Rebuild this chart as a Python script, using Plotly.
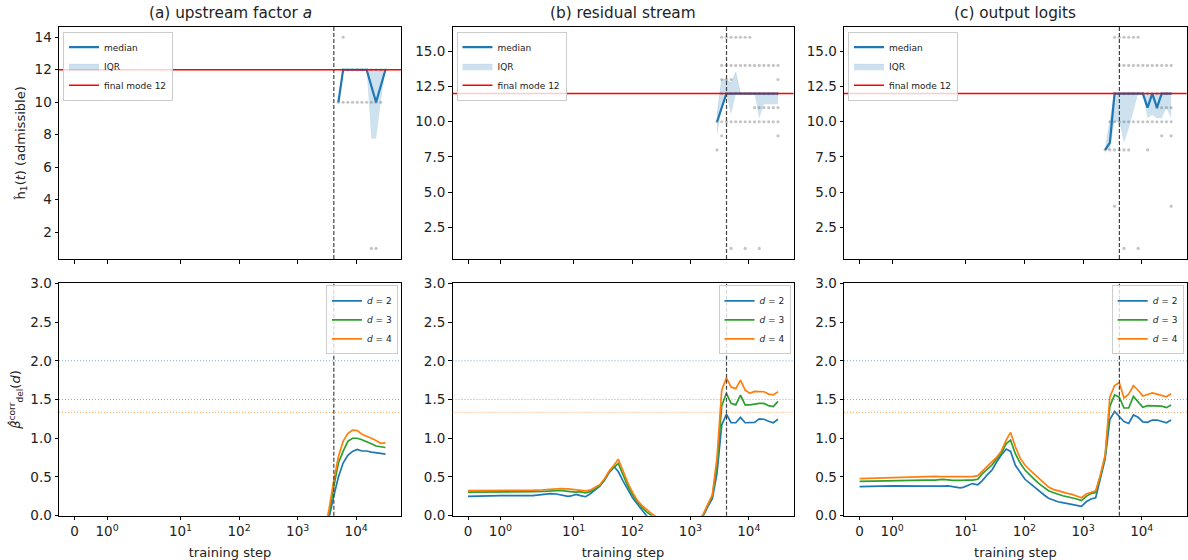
import numpy as np
import plotly.graph_objects as go

# ---------------------------------------------------------------- data
# checkpoint steps (log-spaced, plus the initial step 0)
STEPS = [0, 1, 2, 3, 4, 5, 6, 8, 9, 11, 13, 16, 19, 23, 28, 34, 40, 49, 58, 70,
         85, 102, 123, 148, 177, 214, 257, 309, 372, 448, 539, 648, 780, 938,
         1129, 1359, 1635, 1967, 2371, 2853, 3434, 4132, 4971, 5982, 7197, 8660,
         10420, 12538, 15087, 18154, 21844, 26284, 31623]

# late checkpoints where the admissible estimate h1(t) exists
TOP_STEPS = [2371, 2853, 3434, 4132, 4971, 5982, 7197, 8660, 10420, 12538,
             15087, 18154, 21844, 26284, 31623]

GROK_STEP = 4150
FINAL_MODE = 12
BETA_REF = {"d2": 2.0, "d3": 1.5, "d4": 4.0 / 3.0}

# (a) upstream factor a
a_median = [None, None, None, None, 10, 12, 12, 12, 12, 12, 12, 11, 10, 11, 12]
a_q25 = [None, None, None, None, 10, 12, 12, 12, 12, 12, 12, 7.75, 7.75, 10, 12]
a_q75 = [None, None, None, None, 10, 12, 12, 12, 12, 12, 12, 12, 12, 12, 12]
a_dots = [
    (14, [5982]),
    (12, [5982, 7197, 8660, 10420, 12538, 15087, 18154, 21844, 26284, 31623]),
    (10, [4971, 5982, 7197, 8660, 10420, 12538, 15087, 18154, 21844, 26284]),
    (1, [18154, 21844]),
]

# (b) residual stream
b_median = [None, 10, 11, 12, 12, 12, 12, 12, 12, 12, 12, 12, 12, 12, 12]
b_q25 = [None, 9, 11, 12, 10.5, 12, 12, 12, 12, 12, 10.25, 11.25, 11.25, 11.25, 11.25]
b_q75 = [None, 10.5, 13, 13, 12.75, 13.5, 12, 12, 12, 12, 12, 12, 12, 12, 12]
b_dots = [
    (16, [3434, 4132, 4971, 5982, 7197, 8660, 10420]),
    (14, [3434, 4132, 4971, 5982, 7197, 8660, 10420, 12538, 15087, 18154, 21844, 26284, 31623]),
    (13, [3434, 4132, 4971, 31623]),
    (12, [3434, 4132, 4971, 5982, 7197, 8660, 10420, 12538, 15087, 18154, 21844, 26284, 31623]),
    (11, [12538, 15087, 18154, 21844, 26284, 31623]),
    (10, [2853, 3434, 4132, 4971, 5982, 7197, 8660, 10420, 12538, 15087, 18154, 21844, 26284, 31623]),
    (9, [3434, 31623]),
    (8, [2853]),
    (1, [4971, 8660, 15087]),
]

# (c) output logits
c_median = [8, 8.5, 12, 12, 12, 12, 12, 12, 12, 11, 12, 11, 12, 12, 12]
c_q25 = [8, 8, 10, 10, 8.5, 9.5, 10.75, 12, 12, 10.25, 10.5, 10.25, 10.25, 11, 10.25]
c_q75 = [8, 10, 12, 12, 12, 12, 12, 12, 12, 12, 12, 12, 12, 12, 12]
c_dots = [
    (16, [3434, 4132, 4971, 5982, 7197, 8660]),
    (14, [4132, 4971, 5982, 7197, 8660, 10420, 12538, 15087, 18154, 21844, 26284, 31623]),
    (12, [3434, 4132, 4971, 5982, 7197, 8660, 10420, 12538, 15087, 18154, 21844, 26284, 31623]),
    (11, [18154, 21844, 26284, 31623]),
    (10, [2853, 3434, 4132, 4971, 5982, 7197, 8660, 10420, 12538, 15087, 18154, 21844, 26284, 31623]),
    (9, [21844, 31623]),
    (8, [2371, 2853, 3434, 4132, 4971, 5982, 12538]),
    (4, [3434, 31623]),
    (1, [4971, 8660]),
]

# corrected deletion exponent beta_del^corr(d), one series per d
a_d2 = [-0.62, -0.63, -0.63, -0.64, -0.64, -0.65, -0.65, -0.66, -0.66, -0.67,
        -0.68, -0.70, -0.72, -0.75, -0.78, -0.82, -0.86, -0.90, -0.93, -0.95,
        -0.96, -0.97, -0.97, -0.96, -0.95, -0.93, -0.91, -0.89, -0.87, -0.85,
        -0.83, -0.80, -0.77, -0.73, -0.68, -0.62, -0.55, -0.47,
        -0.38, -0.25, -0.03, 0.25, 0.50, 0.68, 0.78, 0.83, 0.855, 0.835,
        0.835, 0.82, 0.815, 0.805, 0.795]
a_d3 = [-0.58, -0.59, -0.59, -0.60, -0.60, -0.61, -0.61, -0.62, -0.62, -0.63,
        -0.64, -0.66, -0.68, -0.71, -0.74, -0.78, -0.82, -0.86, -0.89, -0.91,
        -0.92, -0.93, -0.93, -0.92, -0.91, -0.89, -0.87, -0.85, -0.83, -0.81,
        -0.79, -0.76, -0.73, -0.69, -0.64, -0.58, -0.52, -0.44,
        -0.36, -0.22, 0.02, 0.37, 0.68, 0.83, 0.96, 1.00, 1.00, 0.98,
        0.96, 0.93, 0.90, 0.89, 0.88]
a_d4 = [-0.55, -0.56, -0.56, -0.57, -0.57, -0.58, -0.58, -0.59, -0.59, -0.60,
        -0.61, -0.63, -0.65, -0.68, -0.71, -0.75, -0.79, -0.83, -0.86, -0.88,
        -0.89, -0.90, -0.90, -0.89, -0.88, -0.86, -0.84, -0.82, -0.80, -0.78,
        -0.76, -0.73, -0.70, -0.66, -0.61, -0.55, -0.49, -0.42,
        -0.34, -0.20, 0.08, 0.45, 0.76, 0.96, 1.06, 1.105, 1.10, 1.05,
        1.03, 1.00, 0.97, 0.935, 0.94]

b_d2 = [0.25, 0.26, 0.26, 0.275, 0.285, 0.28, 0.27, 0.25, 0.255, 0.275,
        0.26, 0.245, 0.28, 0.33, 0.38, 0.46, 0.55, 0.635, 0.57, 0.45,
        0.33, 0.23, 0.15, 0.07, 0.0, -0.06, -0.12, -0.17, -0.21, -0.24,
        -0.26, -0.27, -0.26, -0.23, -0.17, -0.09, -0.01, 0.11,
        0.22, 0.55, 1.17, 1.31, 1.20, 1.20, 1.27, 1.20, 1.20, 1.205,
        1.25, 1.245, 1.22, 1.20, 1.245]
b_d3 = [0.305, 0.305, 0.31, 0.315, 0.32, 0.325, 0.325, 0.315, 0.31, 0.305,
        0.31, 0.295, 0.31, 0.34, 0.39, 0.47, 0.56, 0.63, 0.675, 0.53,
        0.38, 0.27, 0.18, 0.11, 0.05, 0.005, -0.05, -0.10, -0.15, -0.18,
        -0.20, -0.21, -0.20, -0.18, -0.13, -0.07, 0.0, 0.13,
        0.25, 0.65, 1.42, 1.58, 1.45, 1.43, 1.555, 1.43, 1.43, 1.44,
        1.45, 1.45, 1.42, 1.41, 1.475]
b_d4 = [0.325, 0.325, 0.33, 0.335, 0.345, 0.35, 0.35, 0.345, 0.34, 0.33,
        0.32, 0.32, 0.33, 0.36, 0.40, 0.48, 0.57, 0.65, 0.73, 0.58,
        0.42, 0.30, 0.20, 0.13, 0.08, 0.03, -0.01, -0.06, -0.10, -0.13,
        -0.15, -0.16, -0.15, -0.13, -0.09, -0.04, 0.01, 0.14,
        0.27, 0.75, 1.62, 1.78, 1.66, 1.64, 1.75, 1.62, 1.58, 1.605,
        1.60, 1.60, 1.57, 1.56, 1.60]

c_d2 = [0.375, 0.385, 0.383, 0.378, 0.382, 0.385, 0.375, 0.36, 0.366, 0.39,
        0.415, 0.40, 0.45, 0.525, 0.59, 0.70, 0.78, 0.86, 0.83, 0.65,
        0.55, 0.47, 0.42, 0.37, 0.31, 0.27, 0.225, 0.20, 0.18, 0.168,
        0.155, 0.142, 0.13, 0.122, 0.18, 0.215, 0.23, 0.46,
        0.73, 1.24, 1.345, 1.28, 1.215, 1.19, 1.30, 1.27, 1.21, 1.205,
        1.235, 1.235, 1.215, 1.20, 1.235]
c_d3 = [0.443, 0.455, 0.46, 0.46, 0.468, 0.462, 0.455, 0.455, 0.46, 0.46,
        0.46, 0.47, 0.54, 0.59, 0.654, 0.74, 0.80, 0.93, 0.975, 0.80,
        0.676, 0.59, 0.525, 0.47, 0.413, 0.366, 0.323, 0.30, 0.275, 0.258,
        0.245, 0.235, 0.215, 0.195, 0.25, 0.285, 0.30, 0.51,
        0.76, 1.41, 1.56, 1.53, 1.39, 1.39, 1.54, 1.47, 1.40, 1.42,
        1.42, 1.42, 1.415, 1.395, 1.43]
c_d4 = [0.478, 0.495, 0.505, 0.508, 0.505, 0.505, 0.50, 0.497, 0.50, 0.497,
        0.505, 0.517, 0.57, 0.633, 0.69, 0.76, 0.83, 0.98, 1.075, 0.89,
        0.74, 0.654, 0.59, 0.534, 0.48, 0.43, 0.37, 0.34, 0.32, 0.30,
        0.288, 0.275, 0.255, 0.232, 0.28, 0.305, 0.32, 0.525,
        0.78, 1.53, 1.68, 1.72, 1.52, 1.57, 1.68, 1.62, 1.545, 1.565,
        1.585, 1.57, 1.555, 1.535, 1.575]

X_TICKS = [0, 1, 10, 100, 1000, 10000]
X_TICK_TEXT = ["0", "10<sup>0</sup>", "10<sup>1</sup>", "10<sup>2</sup>",
               "10<sup>3</sup>", "10<sup>4</sup>"]

TITLES = ["(a) upstream factor <i>a</i>", "(b) residual stream", "(c) output logits"]

# ---------------------------------------------------------------- helpers
BLUE, GREEN, ORANGE = "#1f77b4", "#2ca02c", "#ff7f0e"
FONT = "DejaVu Sans"
TXT = "#222"
W, H = 1188, 560
TICK_SIZE, LABEL_SIZE, TITLE_SIZE, LEGEND_SIZE = 13.5, 13, 15.3, 9


def symlog(x, linthresh=2.0, base=10.0):
    """Symmetric-log transform (linear below linthresh), in decades."""
    x = np.asarray(x, dtype=float)
    adj = 1.0 / (1.0 - 1.0 / base)
    safe = np.maximum(np.abs(x), linthresh)
    return np.where(np.abs(x) <= linthresh, x / linthresh * adj,
                    np.sign(x) * (adj + np.log10(safe / linthresh)))


g_max = float(symlog(max(STEPS)))
X_RANGE = [-0.05 * g_max, 1.05 * g_max]

# subplot boxes in pixels: (left, right) and (top, bottom)
COLS = [(59, 401), (452.5, 793.5), (844, 1186.7)]
ROWS = [(26.7, 259), (283.3, 515.7)]


def xdom(c):
    return [COLS[c][0] / W, COLS[c][1] / W]


def ydom(r):
    return [1 - ROWS[r][1] / H, 1 - ROWS[r][0] / H]


fig = go.Figure()
layout = dict(
    width=W, height=H, margin=dict(l=0, r=0, t=0, b=0),
    plot_bgcolor="white", paper_bgcolor="white",
    font=dict(family=FONT, size=12, color=TXT),
    showlegend=True,
)
shapes, annotations = [], []

axis_common = dict(showline=True, linecolor="black", linewidth=1, mirror=True,
                   ticks="outside", ticklen=3.5, tickwidth=0.8, tickcolor="black",
                   showgrid=False, zeroline=False, automargin=False,
                   tickfont=dict(size=TICK_SIZE, family=FONT, color=TXT))

legend_common = dict(xref="paper", yref="paper", bgcolor="rgba(255,255,255,0.8)",
                     bordercolor="#cccccc", borderwidth=1, traceorder="normal",
                     font=dict(size=LEGEND_SIZE, family=FONT, color=TXT),
                     tracegroupgap=0, itemwidth=30)

top_sets = [
    (a_median, a_q25, a_q75, a_dots, [0.35, 14.65], [2, 4, 6, 8, 10, 12, 14],
     ["2", "4", "6", "8", "10", "12", "14"]),
    (b_median, b_q25, b_q75, b_dots, [0.25, 16.75], [2.5, 5, 7.5, 10, 12.5, 15],
     ["2.5", "5.0", "7.5", "10.0", "12.5", "15.0"]),
    (c_median, c_q25, c_q75, c_dots, [0.25, 16.75], [2.5, 5, 7.5, 10, 12.5, 15],
     ["2.5", "5.0", "7.5", "10.0", "12.5", "15.0"]),
]
bottom_sets = [(a_d2, a_d3, a_d4), (b_d2, b_d3, b_d4), (c_d2, c_d3, c_d4)]
x_grok = float(symlog(GROK_STEP))

for c in range(3):
    # ---------------- top row: h1(t)
    n = c + 1
    sfx = "" if n == 1 else str(n)
    xa, ya = f"x{sfx}", f"y{sfx}"
    leg = "legend" if n == 1 else f"legend{n}"
    med, q25, q75, dots, yr, yt, ytt = top_sets[c]

    # per-seed modes
    dx, dy = [], []
    for val, steps in dots:
        dx += list(symlog(steps))
        dy += [val] * len(steps)
    fig.add_trace(go.Scatter(x=dx, y=dy, mode="markers", xaxis=xa, yaxis=ya,
                             marker=dict(size=3.2, color="rgba(150,150,150,0.55)"),
                             showlegend=False, hoverinfo="skip"))

    valid = [i for i, m in enumerate(med) if m is not None]
    sx = symlog([TOP_STEPS[i] for i in valid])
    fig.add_trace(go.Scatter(x=sx, y=[q25[i] for i in valid], mode="lines",
                             line=dict(width=0, color="rgba(31,119,180,0.25)"),
                             xaxis=xa, yaxis=ya, showlegend=False, hoverinfo="skip",
                             legend=leg))
    fig.add_trace(go.Scatter(x=sx, y=[q75[i] for i in valid], mode="lines",
                             fill="tonexty", fillcolor="rgba(31,119,180,0.22)",
                             line=dict(width=0.6, color="rgba(31,119,180,0.25)"),
                             xaxis=xa, yaxis=ya, name="IQR", legend=leg,
                             legendrank=2))
    fig.add_trace(go.Scatter(x=sx, y=[med[i] for i in valid], mode="lines",
                             line=dict(width=2.2, color=BLUE), xaxis=xa, yaxis=ya,
                             name="median", legend=leg, legendrank=1))
    # final-mode reference line (drawn as a shape, legend entry here)
    fig.add_trace(go.Scatter(x=[None], y=[None], mode="lines",
                             line=dict(width=1.5, color="red"), xaxis=xa, yaxis=ya,
                             name=f"final mode {FINAL_MODE}", legend=leg, legendrank=3))
    shapes.append(dict(type="line", xref=f"{xa} domain", yref=ya, x0=0, x1=1,
                       y0=FINAL_MODE, y1=FINAL_MODE,
                       line=dict(color="red", width=1.5)))
    shapes.append(dict(type="line", xref=xa, yref=f"{ya} domain",
                       x0=x_grok, x1=x_grok, y0=0, y1=1,
                       line=dict(color="#444", width=1.2, dash="4px,2px")))

    layout[f"xaxis{sfx}"] = dict(axis_common, domain=xdom(c), range=X_RANGE,
                                 tickvals=list(symlog(X_TICKS)), ticktext=X_TICK_TEXT,
                                 showticklabels=False, anchor=ya)
    layout[f"yaxis{sfx}"] = dict(axis_common, domain=ydom(0), range=yr,
                                 tickvals=yt, ticktext=ytt, anchor=xa)
    layout[leg] = dict(legend_common, x=(COLS[c][0] + 4) / W,
                       y=1 - (ROWS[0][0] + 5) / H, xanchor="left", yanchor="top")

    # ---------------- bottom row: beta_del^corr(d)
    n2 = c + 4
    xb, yb = f"x{n2}", f"y{n2}"
    leg2 = f"legend{n2}"
    sx_all = symlog(STEPS)
    for ref, col in zip(BETA_REF.values(), [BLUE, GREEN, ORANGE]):
        shapes.append(dict(type="line", xref=f"{xb} domain", yref=yb, x0=0, x1=1,
                           y0=ref, y1=ref,
                           line=dict(color=col, width=1.1, dash="1px,2px"),
                           opacity=0.6))
    for series, col, d in zip(bottom_sets[c], [BLUE, GREEN, ORANGE], [2, 3, 4]):
        fig.add_trace(go.Scatter(x=sx_all, y=series, mode="lines",
                                 line=dict(width=1.7, color=col), xaxis=xb, yaxis=yb,
                                 name=f"<i>d</i> = {d}", legend=leg2))
    shapes.append(dict(type="line", xref=xb, yref=f"{yb} domain",
                       x0=x_grok, x1=x_grok, y0=0, y1=1,
                       line=dict(color="#444", width=1.2, dash="4px,2px")))

    layout[f"xaxis{n2}"] = dict(axis_common, domain=xdom(c), range=X_RANGE,
                                tickvals=list(symlog(X_TICKS)), ticktext=X_TICK_TEXT,
                                anchor=yb,
                                title=dict(text="training step", standoff=9,
                                           font=dict(size=LABEL_SIZE, family=FONT)))
    layout[f"yaxis{n2}"] = dict(axis_common, domain=ydom(1), range=[0, 3],
                                tickvals=[0, 0.5, 1, 1.5, 2, 2.5, 3],
                                ticktext=["0.0", "0.5", "1.0", "1.5", "2.0", "2.5", "3.0"],
                                anchor=xb)
    layout[leg2] = dict(legend_common, x=(COLS[c][1] - 3) / W,
                        y=1 - (ROWS[1][0] + 2) / H, xanchor="right", yanchor="top")

    annotations.append(dict(text=TITLES[c], x=(COLS[c][0] + COLS[c][1]) / 2 / W,
                            y=1 - 13 / H, xref="paper", yref="paper",
                            showarrow=False, xanchor="center", yanchor="middle",
                            font=dict(size=TITLE_SIZE, family=FONT, color=TXT)))

layout["yaxis"]["title"] = dict(text="ĥ<sub>1</sub>(<i>t</i>) (admissible)",
                                standoff=6, font=dict(size=LABEL_SIZE, family=FONT))
layout["yaxis4"]["title"] = dict(text="<i>β̂</i><sup>corr</sup><sub>del</sub>(<i>d</i>)",
                                 standoff=6, font=dict(size=LABEL_SIZE, family=FONT))
layout["shapes"] = shapes
layout["annotations"] = annotations
fig.update_layout(**layout)

fig.write_html("out.html")
